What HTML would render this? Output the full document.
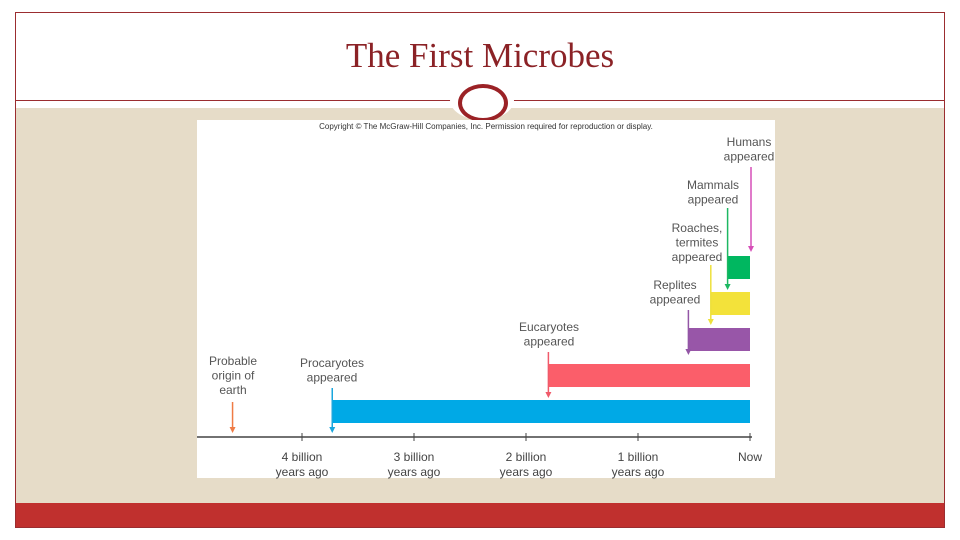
<!DOCTYPE html>
<html><head><meta charset="utf-8"><style>
body{margin:0;width:960px;height:540px;background:#fff;position:relative;overflow:hidden}
.abs{position:absolute}
</style></head><body>
<div class="abs" style="left:15px;top:12px;width:928px;height:514px;border:1px solid #9b2d30"></div>
<div class="abs" style="left:16px;top:108px;width:928px;height:395px;background:#e6dcc8"></div>
<div class="abs" style="left:16px;top:100px;width:928px;height:1px;background:#9b2d30"></div>
<div class="abs" style="left:16px;top:503px;width:928px;height:24px;background:#c0302e"></div>
<div class="abs" style="left:0;top:36px;width:960px;text-align:center;font:35px 'Liberation Serif',serif;color:#8b2226">The First Microbes</div>
<div class="abs" style="left:450px;top:80px;width:64px;height:40px;border-radius:50%;background:#fff"></div>
<div class="abs" style="left:458px;top:84px;width:42px;height:30px;border:4px solid #9b2226;border-radius:50%"></div>
<svg class="abs" style="left:0;top:0" width="960" height="540" id="chart"></svg>
<script>
const barLabels=["Procaryotes","Eucaryotes","Reptiles","Roaches","Mammals"];
const barStarts=[3.73,1.8,0.55,0.35,0.2];
const arrowValues=[4.62,3.73,1.8,0.55,0.35,0.2,0.0];
const tickValues=[4,3,2,1,0];
const tickLabels=[["4 billion","years ago"],["3 billion","years ago"],["2 billion","years ago"],["1 billion","years ago"],["Now",""]];
const NS="http://www.w3.org/2000/svg";
const svg=document.getElementById('chart');
const x=v=>750-112*v;
function el(t,a,p){const e=document.createElementNS(NS,t);for(const k in a)e.setAttribute(k,a[k]);(p||svg).appendChild(e);return e;}
const bg=el('rect',{x:197,y:120,width:578,height:358,fill:'#fff'});


const cp=el('text',{x:486,y:129,'text-anchor':'middle','font-size':8,'font-family':'Liberation Sans, sans-serif',fill:'#333'});cp.textContent="Copyright © The McGraw-Hill Companies, Inc. Permission required for reproduction or display.";


const ax=el('line',{x1:197,y1:437,x2:752,y2:437,stroke:'#444','stroke-width':1.5});


tickValues.forEach((v,i)=>{
 const t=el('line',{x1:x(v),y1:433,x2:x(v),y2:441,stroke:'#444'});
 
 
 tickLabels[i].forEach((s,j)=>{const tx=el('text',{x:x(v),y:461+j*15,'text-anchor':'middle','font-size':12,'font-family':'Liberation Sans, sans-serif',fill:'#444'});tx.textContent=s;
 
 });
});
const barColors=['#00a9e6','#fb5e6a','#9856a8','#f3e23a','#00b760'];
const barY=[400,364,328,292,256];
barStarts.forEach((v,i)=>{
 const r=el('rect',{x:x(v),y:barY[i],width:x(0)-x(v),height:23,fill:barColors[i]});
 
 
});
const arrowColors=['#ef7b45','#1aa6dd','#f05a6a','#9356a6','#ede03c','#1db862','#d64fb8'];
const arrowTop=[402,388,352,310,265,208,167];
const arrowBot=[433,433,398,355,325,290,252];
const labels=[["Probable","origin of","earth"],["Procaryotes","appeared"],["Eucaryotes","appeared"],["Replites","appeared"],["Roaches,","termites","appeared"],["Mammals","appeared"],["Humans","appeared"]];
const labelX=[233,332,549,675,697,713,749];
const labelY=[365,367,331,289,232,189,146];
arrowValues.forEach((v,i)=>{
 const xv=x(v)+(i==6?1:0);
 const l=el('line',{x1:xv,y1:arrowTop[i],x2:xv,y2:arrowBot[i]-5,stroke:arrowColors[i],'stroke-width':1.5});
 
 
 const h=el('polygon',{points:`${xv-3},${arrowBot[i]-6} ${xv+3},${arrowBot[i]-6} ${xv},${arrowBot[i]}`,fill:arrowColors[i]});
 
 
 labels[i].forEach((s,j)=>{const t=el('text',{x:labelX[i],y:labelY[i]+j*14.5,'text-anchor':'middle','font-size':12,'font-family':'Liberation Sans, sans-serif',fill:'#555'});t.textContent=s;
 
 });
});
</script>
</body></html>
